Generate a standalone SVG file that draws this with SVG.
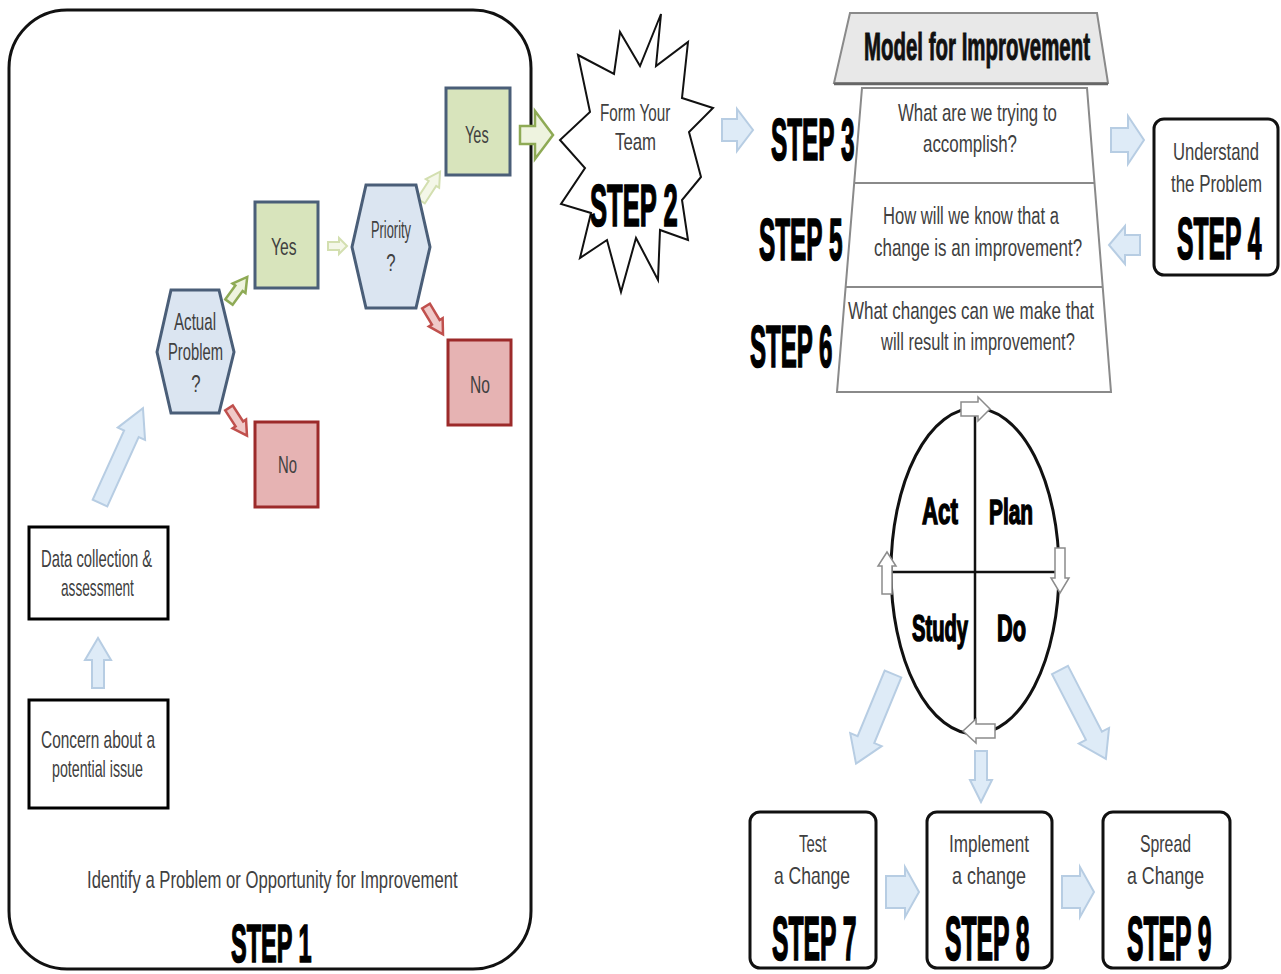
<svg xmlns="http://www.w3.org/2000/svg" width="1281" height="974" viewBox="0 0 1281 974">
<style>
.t{font-family:"Liberation Sans",Arial,sans-serif;font-size:24px;fill:#404040}
.s{font-family:"Liberation Sans",Arial,sans-serif;font-weight:bold;fill:#000;stroke:#000;stroke-width:1.3;vector-effect:non-scaling-stroke}
.m{font-family:"Liberation Sans",Arial,sans-serif;font-weight:bold;fill:#111;stroke:#111;stroke-width:0.8;vector-effect:non-scaling-stroke}
.yes{fill:#d8e4bc;stroke:#4a5e78;stroke-width:3}
.no{fill:#e6b3b3;stroke:#9c2a2a;stroke-width:3}
.hex{fill:#dbe5f1;stroke:#4a5e78;stroke-width:3}
.box{fill:#fff;stroke:#000;stroke-width:3}
.rbox{fill:#fff;stroke:#111;stroke-width:3}
.blue{fill:#deebf7;stroke:#b7cde3;stroke-width:2}
.grn{fill:#eef3df;stroke:#8eaa55;stroke-width:2.5}
.pale{fill:#f4f7e8;stroke:#d3dfb0;stroke-width:2}
.red{fill:#f0c9c8;stroke:#c0504d;stroke-width:2.5}
.wht{fill:#fff;stroke:#8c8c8c;stroke-width:1.5}
.trap{fill:#fff;stroke:#8a8a8a;stroke-width:2}
</style>

<g id="frame">
<rect x="9" y="10" width="522" height="959" rx="58" ry="58" fill="#fff" stroke="#111" stroke-width="3"/>
</g>

<g id="connectors">
<polygon class="blue" transform="translate(98,688) rotate(-90)" points="0,-6 28,-6 28,-13 50,0 28,13 28,6 0,6"/>
<polygon class="blue" transform="translate(100,503) rotate(-65.6)" points="0,-8 76,-8 76,-15 104,0 76,15 76,8 0,8"/>
<polygon class="grn" transform="translate(229,302) rotate(-54)" points="0,-4.5 17,-4.5 17,-8 31,0 17,8 17,4.5 0,4.5"/>
<polygon class="red" transform="translate(229,408) rotate(57)" points="0,-4.5 19,-4.5 19,-8 33,0 19,8 19,4.5 0,4.5"/>
<polygon class="pale" transform="translate(328,246)" points="0,-4 11,-4 11,-8 19,0 11,8 11,4 0,4"/>
<polygon class="pale" transform="translate(421,201) rotate(-57)" points="0,-4.5 21,-4.5 21,-8 35,0 21,8 21,4.5 0,4.5"/>
<polygon class="red" transform="translate(426,306) rotate(59)" points="0,-4.5 19,-4.5 19,-8 33,0 19,8 19,4.5 0,4.5"/>
<polygon class="grn" transform="translate(520,135)" points="0,-9 15,-9 15,-24 33,0 15,24 15,9 0,9"/>
<polygon class="blue" transform="translate(722,130)" points="0,-11 15,-11 15,-21 31,0 15,21 15,11 0,11"/>
<polygon class="blue" transform="translate(1111,140)" points="0,-12 17,-12 17,-24 33,0 17,24 17,12 0,12"/>
<polygon class="blue" transform="translate(1140,245) rotate(180)" points="0,-10 15,-10 15,-19 31,0 15,19 15,10 0,10"/>
<polygon class="blue" transform="translate(893,674) rotate(112.4)" points="0,-9 71,-9 71,-17 97,0 71,17 71,9 0,9"/>
<polygon class="blue" transform="translate(1060,670) rotate(62.7)" points="0,-9 74,-9 74,-17 100,0 74,17 74,9 0,9"/>
<polygon class="blue" transform="translate(981,751) rotate(90)" points="0,-6 29,-6 29,-11 51,0 29,11 29,6 0,6"/>
<polygon class="blue" transform="translate(886,892)" points="0,-16 19,-16 19,-25 33,0 19,25 19,16 0,16"/>
<polygon class="blue" transform="translate(1062,892)" points="0,-16 18,-16 18,-25 32,0 18,25 18,16 0,16"/>
</g>

<g id="concern">
<rect class="box" x="29" y="700" width="139" height="108"/>
<text class="t" transform="translate(41,748) scale(0.643,1)">Concern about a</text>
<text class="t" transform="translate(52,777) scale(0.593,1)">potential issue</text>
</g>

<g id="data">
<rect class="box" x="29" y="527" width="139" height="92"/>
<text class="t" transform="translate(41,567) scale(0.617,1)">Data collection &amp;</text>
<text class="t" transform="translate(61,596) scale(0.570,1)">assessment</text>
</g>

<g id="actual">
<polygon class="hex" points="157,352 171,290 219,290 234,352 219,413 171,413"/>
<text class="t" transform="translate(174,330) scale(0.630,1)">Actual</text>
<text class="t" transform="translate(168,360) scale(0.615,1)">Problem</text>
<text class="t" text-anchor="middle" transform="translate(196,392) scale(0.7,1)">?</text>
</g>

<g id="yes1">
<rect class="yes" x="255" y="202" width="63" height="86"/>
<text class="t" transform="translate(271,255) scale(0.652,1)">Yes</text>
</g>

<g id="no1">
<rect class="no" x="255" y="422" width="63" height="85"/>
<text class="t" transform="translate(278,473) scale(0.62,1)">No</text>
</g>

<g id="priority">
<polygon class="hex" points="352,247 366,185 416,185 430,247 416,308 366,308"/>
<text class="t" transform="translate(371,238) scale(0.536,1)">Priority</text>
<text class="t" text-anchor="middle" transform="translate(391,271) scale(0.7,1)">?</text>
</g>

<g id="yes2">
<rect class="yes" x="446" y="88" width="64" height="87"/>
<text class="t" transform="translate(465,143) scale(0.604,1)">Yes</text>
</g>

<g id="no2">
<rect class="no" x="448" y="340" width="63" height="85"/>
<text class="t" transform="translate(470,393) scale(0.65,1)">No</text>
</g>

<g id="step1">
<text class="t" transform="translate(87,888) scale(0.695,1)">Identify a Problem or Opportunity for Improvement</text>
<text class="s" font-size="54" transform="translate(231,962) scale(0.435,1)">STEP 1</text>
</g>

<g id="step2">
<polygon points="661,14 656,66 688,42 682,98 713,108 689,132 701,177 682,200 688,240 660,230 658,280 636,238 621,292 607,240 580,258 591,213 561,204 585,168 560,140 590,112 578,55 614,74 620,32 640,66" fill="#fff" stroke="#111" stroke-width="2"/>
<text class="t" transform="translate(600,121) scale(0.635,1)">Form Your</text>
<text class="t" transform="translate(615,150) scale(0.701,1)">Team</text>
<text class="s" font-size="60" transform="translate(590,226) scale(0.426,1)">STEP 2</text>
</g>

<g id="model">
<polygon points="850,13 1097,13 1108,83 834,83" fill="#e8e8e8" stroke="#8a8a8a" stroke-width="2"/>
<line x1="834" y1="84" x2="1108" y2="84" stroke="#666" stroke-width="2.5"/>
<text class="m" font-size="38" transform="translate(864,60) scale(0.538,1)">Model for Improvement</text>
<polygon class="trap" points="862,88 1087,88 1111,392 837,392"/>
<line x1="854" y1="183" x2="1095" y2="183" stroke="#8a8a8a" stroke-width="2"/>
<line x1="846" y1="287" x2="1103" y2="287" stroke="#8a8a8a" stroke-width="2"/>
</g>

<g id="step3">
<text class="s" font-size="60" transform="translate(771,160) scale(0.406,1)">STEP 3</text>
<text class="t" transform="translate(898,121) scale(0.701,1)">What are we trying to</text>
<text class="t" transform="translate(923,152) scale(0.705,1)">accomplish?</text>
</g>

<g id="step5">
<text class="s" font-size="60" transform="translate(759,260) scale(0.406,1)">STEP 5</text>
<text class="t" transform="translate(883,224) scale(0.691,1)">How will we know that a</text>
<text class="t" transform="translate(874,256) scale(0.706,1)">change is an improvement?</text>
</g>

<g id="step6">
<text class="s" font-size="60" transform="translate(750,367) scale(0.401,1)">STEP 6</text>
<text class="t" transform="translate(848,319) scale(0.707,1)">What changes can we make that</text>
<text class="t" transform="translate(881,350) scale(0.686,1)">will result in improvement?</text>
</g>

<g id="step4">
<rect class="rbox" x="1154" y="119" width="124" height="156" rx="10" ry="10"/>
<text class="t" transform="translate(1173,160) scale(0.693,1)">Understand</text>
<text class="t" transform="translate(1171,192) scale(0.703,1)">the Problem</text>
<text class="s" font-size="60" transform="translate(1177,259) scale(0.411,1)">STEP 4</text>
</g>

<g id="pdsa">
<ellipse cx="975" cy="571" rx="84" ry="163" fill="#fff" stroke="#111" stroke-width="3"/>
<line x1="975" y1="410" x2="975" y2="732" stroke="#111" stroke-width="2.5"/>
<line x1="891" y1="572" x2="1059" y2="572" stroke="#111" stroke-width="2.5"/>
<text class="s" font-size="36" transform="translate(922,524) scale(0.62,1)">Act</text>
<text class="s" font-size="36" transform="translate(989,524) scale(0.579,1)">Plan</text>
<text class="s" font-size="36" transform="translate(912,641) scale(0.56,1)">Study</text>
<text class="s" font-size="36" transform="translate(997,641) scale(0.604,1)">Do</text>
<polygon class="wht" transform="translate(961,409)" points="0,-7 17,-7 17,-12 29,0 17,12 17,7 0,7"/>
<polygon class="wht" transform="translate(1060,548) rotate(90)" points="0,-5 30,-5 30,-9 45,0 30,9 30,5 0,5"/>
<polygon class="wht" transform="translate(995,731) rotate(180)" points="0,-7 19,-7 19,-12 32,0 19,12 19,7 0,7"/>
<polygon class="wht" transform="translate(887,594) rotate(-90)" points="0,-5 28,-5 28,-9 42,0 28,9 28,5 0,5"/>
</g>

<g id="step7">
<rect class="rbox" x="750" y="812" width="126" height="156" rx="10" ry="10"/>
<text class="t" transform="translate(799,852) scale(0.621,1)">Test</text>
<text class="t" transform="translate(774,884) scale(0.73,1)">a Change</text>
<text class="s" font-size="62" transform="translate(772,960) scale(0.398,1)">STEP 7</text>
</g>

<g id="step8">
<rect class="rbox" x="927" y="812" width="125" height="156" rx="10" ry="10"/>
<text class="t" transform="translate(949,852) scale(0.714,1)">Implement</text>
<text class="t" transform="translate(952,884) scale(0.75,1)">a change</text>
<text class="s" font-size="62" transform="translate(945,960) scale(0.398,1)">STEP 8</text>
</g>

<g id="step9">
<rect class="rbox" x="1103" y="812" width="127" height="156" rx="10" ry="10"/>
<text class="t" transform="translate(1140,852) scale(0.659,1)">Spread</text>
<text class="t" transform="translate(1127,884) scale(0.74,1)">a Change</text>
<text class="s" font-size="62" transform="translate(1127,960) scale(0.398,1)">STEP 9</text>
</g>
</svg>
